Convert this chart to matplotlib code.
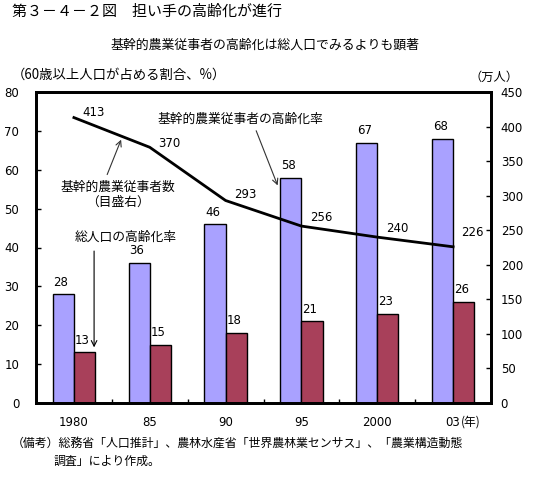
import matplotlib
matplotlib.use("Agg")
import matplotlib.pyplot as plt
import numpy as np

plt.rcParams['font.family'] = ['Noto Sans CJK JP', 'DejaVu Sans']

categories = ["1980", "85", "90", "95", "2000", "03"]
year_unit = "(年)"
farm_aging = [28, 36, 46, 58, 67, 68]          # 基幹的農業従事者の高齢化率 (%)
total_aging = [13, 15, 18, 21, 23, 26]          # 総人口の高齢化率 (%)
farm_workers = [413, 370, 293, 256, 240, 226]   # 基幹的農業従事者数 (万人)

purple = "#A9A1FF"
maroon = "#A8405A"

fig = plt.figure(figsize=(5.43, 4.97), dpi=100)
W, H = 543, 497
ax = fig.add_axes([36 / W, 1 - 403 / H, (491 - 36) / W, (403 - 92) / H])
ax2 = ax.twinx()

x = np.arange(len(categories))
bw = 0.28
ax.bar(x - bw / 2, farm_aging, width=bw, color=purple, edgecolor="black", linewidth=1, zorder=2)
ax.bar(x + bw / 2, total_aging, width=bw, color=maroon, edgecolor="black", linewidth=1, zorder=2)

num_font = dict(family=['DejaVu Sans'], fontsize=8.5)
for xi, v in zip(x, farm_aging):
    ax.text(xi - bw / 2 - 0.03, v + 3.1, f"{v}", ha="center", va="center", **num_font)
for xi, v in zip(x, total_aging):
    ax.text(xi + bw / 2 - 0.03, v + 3.1, f"{v}", ha="center", va="center", **num_font)

ax.set_xlim(-0.5, len(categories) - 0.5)
ax.set_ylim(0, 80)
ax.set_yticks(np.arange(0, 81, 10))
ax2.set_ylim(0, 450)
ax2.set_yticks(np.arange(0, 451, 50))

ax2.plot(x, farm_workers, color="black", linewidth=2, zorder=3)

line_lbl_dy = [8, 6, 8, 13, 13, 21]
for xi, v, dy in zip(x, farm_workers, line_lbl_dy):
    ax2.text(xi + 0.26, v + dy, f"{v}", ha="center", va="center", **num_font)

ax.set_xticks(np.arange(-0.5, len(categories), 1.0))
ax.set_xticklabels([])
ax.tick_params(axis="x", direction="in", length=3, width=1)
ax.tick_params(axis="y", direction="in", length=3.5, width=1, labelsize=8.5, pad=12)
ax2.tick_params(axis="y", direction="in", length=3.5, width=1, labelsize=8.5, pad=7)
for lbl in ax.get_yticklabels() + ax2.get_yticklabels():
    lbl.set_family(['DejaVu Sans'])
for xi, c in zip(x, categories):
    ax.text(xi, -0.062, c, transform=ax.get_xaxis_transform(), ha="center", va="center", **num_font)
ax.text(x[-1] + 0.1, -0.062, year_unit, transform=ax.get_xaxis_transform(), ha="left", va="center",
        fontsize=8.5)

for a in (ax, ax2):
    for s in a.spines.values():
        s.set_linewidth(2)
        s.set_color("black")

afs = 9.2
# annotations
ax.text(2.19, 73.0, "基幹的農業従事者の高齢化率", ha="center", va="center", fontsize=afs)
ax.annotate("", xy=(2.70, 55.3), xytext=(2.39, 70.7),
            arrowprops=dict(arrowstyle="->", color="#333333", lw=0.8))

ax.text(0.577, 53.5, "基幹的農業従事者数\n（目盛右）", ha="center", va="center", fontsize=afs, linespacing=1.25)
ax.annotate("", xy=(0.636, 68.4), xytext=(0.425, 58.1),
            arrowprops=dict(arrowstyle="->", color="#333333", lw=0.8))

ax.text(0.676, 42.7, "総人口の高齢化率", ha="center", va="center", fontsize=afs)
ax.annotate("", xy=(0.266, 13.6), xytext=(0.266, 39.8),
            arrowprops=dict(arrowstyle="->", color="black", lw=0.8))

fig.text(12 / W, 1 - 12 / H, "第３－４－２図　担い手の高齢化が進行", ha="left", va="center", fontsize=10.8)
fig.text(265 / W, 1 - 45 / H, "基幹的農業従事者の高齢化は総人口でみるよりも顕著", ha="center", va="center", fontsize=9.3)
fig.text(12 / W, 1 - 75 / H, "（60歳以上人口が占める割合、%）", ha="left", va="center", fontsize=9.6)
fig.text(518 / W, 1 - 77 / H, "（万人）", ha="right", va="center", fontsize=8.8)
fig.text(12 / W, 1 - 443 / H, "（備考）総務省「人口推計」、農林水産省「世界農林業センサス」、「農業構造動態",
         ha="left", va="center", fontsize=8.6)
fig.text(53 / W, 1 - 461 / H, "調査」により作成。", ha="left", va="center", fontsize=8.6)

fig.savefig("out.png", dpi=100)
